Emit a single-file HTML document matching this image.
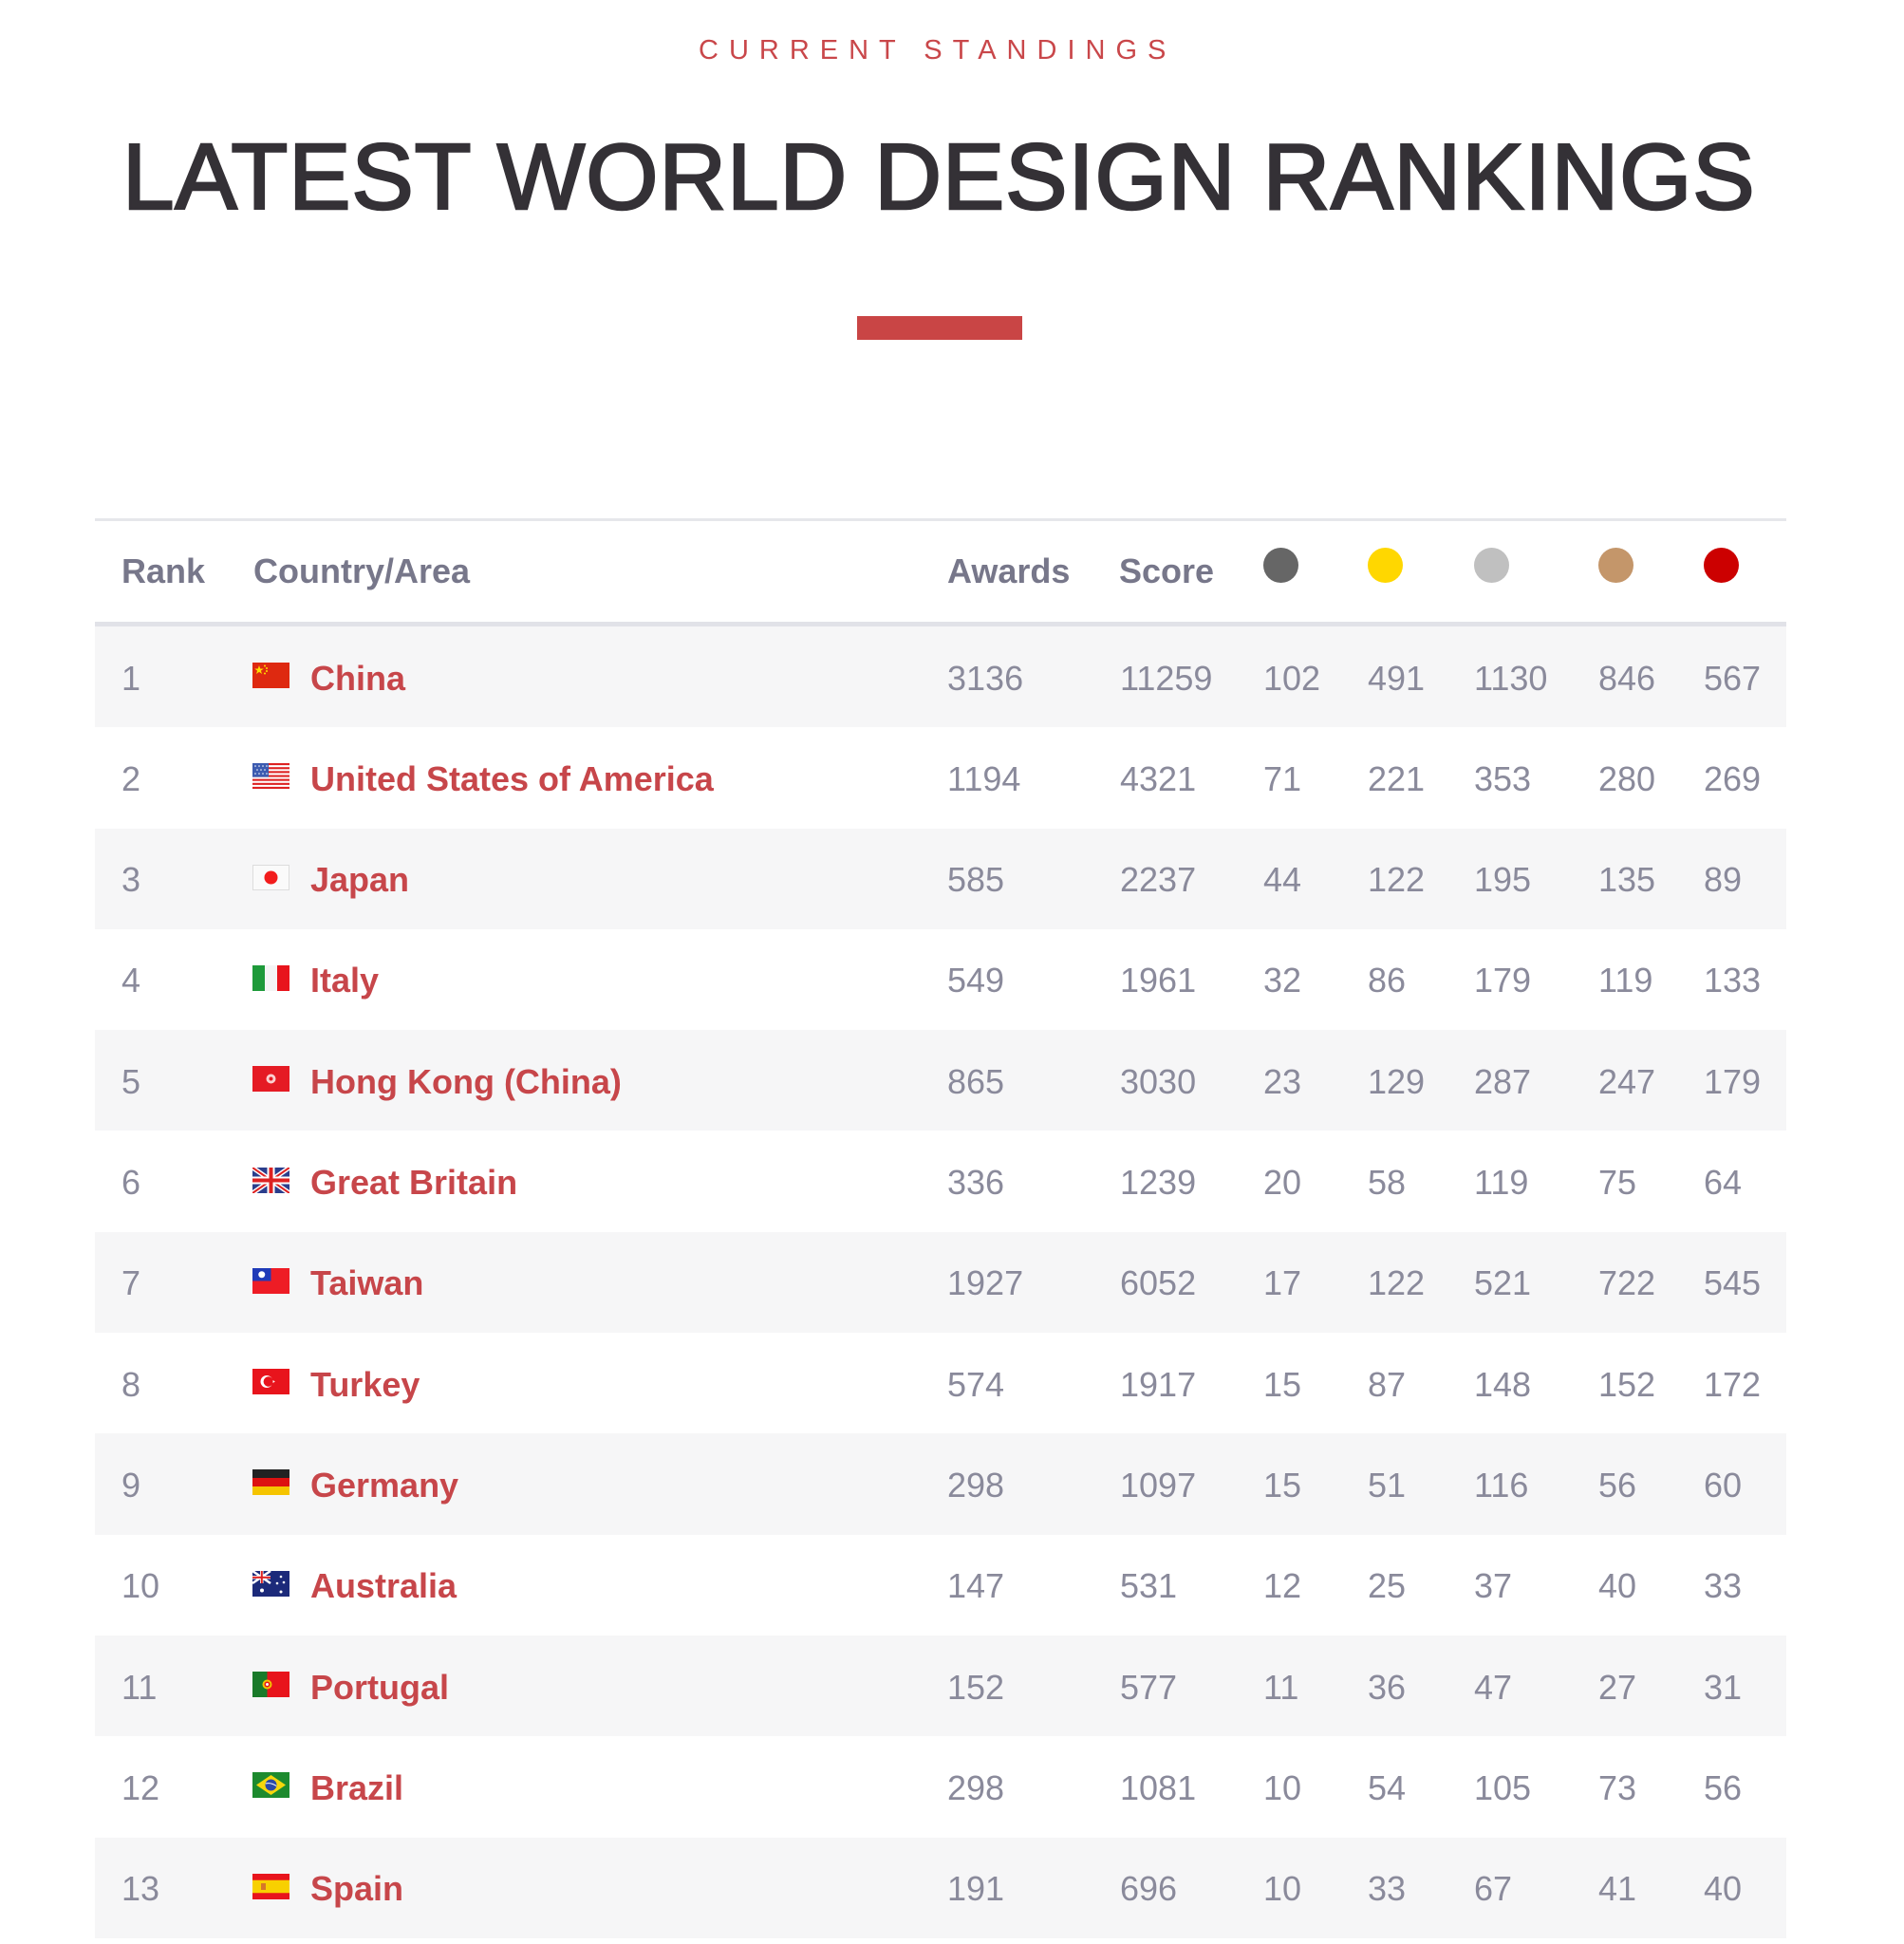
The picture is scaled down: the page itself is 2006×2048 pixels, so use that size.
<!DOCTYPE html>
<html>
<head>
<meta charset="utf-8">
<style>
html,body{margin:0;padding:0;background:#fff;}
body{width:2006px;height:2048px;position:relative;overflow:hidden;font-family:"Liberation Sans",Arial,sans-serif;}
.sub{position:absolute;left:736px;top:38.5px;font-size:29px;line-height:29px;letter-spacing:11px;color:#c9474a;white-space:nowrap;}
.title{position:absolute;left:129px;top:136.5px;font-size:98px;line-height:98px;font-weight:400;letter-spacing:0.9px;color:#343136;-webkit-text-stroke:2.5px #343136;white-space:nowrap;}
.bar{position:absolute;left:903px;top:333px;width:174px;height:25px;background:#c94545;}
.line1{position:absolute;left:100px;top:546px;width:1782px;height:3px;background:#e6e7eb;}
.line2{position:absolute;left:100px;top:655px;width:1782px;height:5px;background:#e1e2e8;}
.hd{position:absolute;top:583.5px;font-size:36px;line-height:36px;font-weight:700;color:#77778a;white-space:nowrap;}
.dot{position:absolute;top:577px;width:37px;height:37px;border-radius:50%;}
.row{position:absolute;left:100px;width:1782px;height:106.3px;}
.row.g{background:#f6f6f7;}
.row span{position:absolute;top:36.5px;font-size:36px;line-height:36px;color:#8a8a9b;white-space:nowrap;}
.row span.n{font-weight:700;color:#c7464a;}
.row svg{position:absolute;left:166px;top:38px;width:39px;height:27px;}
.r{left:28px}.nm{left:227px}.aw{left:898px}.sc{left:1080px}
.c1{left:1231px}.c2{left:1341px}.c3{left:1453px}.c4{left:1584px}.c5{left:1695px}
</style>
</head>
<body>
<div class="sub">CURRENT STANDINGS</div>
<div class="title">LATEST WORLD DESIGN RANKINGS</div>
<div class="bar"></div>

<div class="line1"></div>
<div class="hd" style="left:128px">Rank</div>
<div class="hd" style="left:267px">Country/Area</div>
<div class="hd" style="left:998px">Awards</div>
<div class="hd" style="left:1179px">Score</div>
<div class="dot" style="left:1331px;background:#666666"></div>
<div class="dot" style="left:1441px;background:#ffd700"></div>
<div class="dot" style="left:1553px;background:#c0c0c0"></div>
<div class="dot" style="left:1684px;background:#c4966a"></div>
<div class="dot" style="left:1795px;background:#cc0000"></div>
<div class="line2"></div>

<!-- 1 China -->
<div class="row g" style="top:660px">
<span class="r">1</span>
<svg viewBox="0 0 39 27"><rect width="39" height="27" fill="#de2910"/><polygon points="7,3 8.2,6.5 11.8,6.5 8.9,8.6 10,12 7,9.9 4,12 5.1,8.6 2.2,6.5 5.8,6.5" fill="#ffde00"/><circle cx="13" cy="3.5" r="1" fill="#ffde00"/><circle cx="15" cy="6" r="1" fill="#ffde00"/><circle cx="15" cy="9" r="1" fill="#ffde00"/><circle cx="13" cy="11.5" r="1" fill="#ffde00"/></svg>
<span class="n nm">China</span>
<span class="aw">3136</span><span class="sc">11259</span><span class="c1">102</span><span class="c2">491</span><span class="c3">1130</span><span class="c4">846</span><span class="c5">567</span>
</div>

<!-- 2 USA -->
<div class="row" style="top:766.3px">
<span class="r">2</span>
<svg viewBox="0 0 39 27"><rect width="39" height="27" fill="#fff"/><g fill="#d22"><rect y="0" width="39" height="2.1"/><rect y="4.2" width="39" height="2.1"/><rect y="8.3" width="39" height="2.1"/><rect y="12.5" width="39" height="2.1"/><rect y="16.6" width="39" height="2.1"/><rect y="20.8" width="39" height="2.1"/><rect y="24.9" width="39" height="2.1"/></g><rect width="17" height="14.6" fill="#3c5bb0"/><g fill="#fff"><circle cx="3" cy="3" r="0.8"/><circle cx="7" cy="3" r="0.8"/><circle cx="11" cy="3" r="0.8"/><circle cx="15" cy="3" r="0.8"/><circle cx="5" cy="7" r="0.8"/><circle cx="9" cy="7" r="0.8"/><circle cx="13" cy="7" r="0.8"/><circle cx="3" cy="11" r="0.8"/><circle cx="7" cy="11" r="0.8"/><circle cx="11" cy="11" r="0.8"/><circle cx="15" cy="11" r="0.8"/></g></svg>
<span class="n nm">United States of America</span>
<span class="aw">1194</span><span class="sc">4321</span><span class="c1">71</span><span class="c2">221</span><span class="c3">353</span><span class="c4">280</span><span class="c5">269</span>
</div>

<!-- 3 Japan -->
<div class="row g" style="top:872.6px">
<span class="r">3</span>
<svg viewBox="0 0 39 27"><rect x="0.5" y="0.5" width="38" height="26" fill="#fafafa" stroke="#ddd"/><circle cx="19.5" cy="13.5" r="7" fill="#f21c1c"/></svg>
<span class="n nm">Japan</span>
<span class="aw">585</span><span class="sc">2237</span><span class="c1">44</span><span class="c2">122</span><span class="c3">195</span><span class="c4">135</span><span class="c5">89</span>
</div>

<!-- 4 Italy -->
<div class="row" style="top:978.9px">
<span class="r">4</span>
<svg viewBox="0 0 39 27"><rect width="13" height="27" fill="#1e9a3a"/><rect x="13" width="13" height="27" fill="#f4f4f4"/><rect x="26" width="13" height="27" fill="#e8141c"/></svg>
<span class="n nm">Italy</span>
<span class="aw">549</span><span class="sc">1961</span><span class="c1">32</span><span class="c2">86</span><span class="c3">179</span><span class="c4">119</span><span class="c5">133</span>
</div>

<!-- 5 Hong Kong -->
<div class="row g" style="top:1085.2px">
<span class="r">5</span>
<svg viewBox="0 0 39 27"><rect width="39" height="27" fill="#e51b24"/><circle cx="19.5" cy="13.5" r="5" fill="#fbd0d0"/><circle cx="19.5" cy="13.5" r="2" fill="#e51b24"/></svg>
<span class="n nm">Hong Kong (China)</span>
<span class="aw">865</span><span class="sc">3030</span><span class="c1">23</span><span class="c2">129</span><span class="c3">287</span><span class="c4">247</span><span class="c5">179</span>
</div>

<!-- 6 Great Britain -->
<div class="row" style="top:1191.5px">
<span class="r">6</span>
<svg viewBox="0 0 39 27"><rect width="39" height="27" fill="#2b3e8c"/><path d="M0,0 L39,27 M39,0 L0,27" stroke="#fff" stroke-width="5"/><path d="M0,0 L39,27 M39,0 L0,27" stroke="#d22" stroke-width="2"/><rect x="15.5" width="8" height="27" fill="#fff"/><rect y="9.5" width="39" height="8" fill="#fff"/><rect x="17.5" width="4" height="27" fill="#d22"/><rect y="11.5" width="39" height="4" fill="#d22"/></svg>
<span class="n nm">Great Britain</span>
<span class="aw">336</span><span class="sc">1239</span><span class="c1">20</span><span class="c2">58</span><span class="c3">119</span><span class="c4">75</span><span class="c5">64</span>
</div>

<!-- 7 Taiwan -->
<div class="row g" style="top:1297.8px">
<span class="r">7</span>
<svg viewBox="0 0 39 27"><rect width="39" height="27" fill="#ee1c25"/><rect width="19.5" height="13.5" fill="#1f3ab8"/><circle cx="9.75" cy="6.75" r="3.5" fill="#fff"/></svg>
<span class="n nm">Taiwan</span>
<span class="aw">1927</span><span class="sc">6052</span><span class="c1">17</span><span class="c2">122</span><span class="c3">521</span><span class="c4">722</span><span class="c5">545</span>
</div>

<!-- 8 Turkey -->
<div class="row" style="top:1404.1px">
<span class="r">8</span>
<svg viewBox="0 0 39 27"><rect width="39" height="27" fill="#e8141c"/><circle cx="15" cy="13.5" r="6.5" fill="#fff"/><circle cx="16.8" cy="13.5" r="5.2" fill="#e8141c"/><polygon points="24,13.5 21,12.3 22.5,15.3 22.5,11.7 21,14.7" fill="#fff"/></svg>
<span class="n nm">Turkey</span>
<span class="aw">574</span><span class="sc">1917</span><span class="c1">15</span><span class="c2">87</span><span class="c3">148</span><span class="c4">152</span><span class="c5">172</span>
</div>

<!-- 9 Germany -->
<div class="row g" style="top:1510.4px">
<span class="r">9</span>
<svg viewBox="0 0 39 27"><rect width="39" height="9" fill="#222"/><rect y="9" width="39" height="9" fill="#dd1111"/><rect y="18" width="39" height="9" fill="#f5c400"/></svg>
<span class="n nm">Germany</span>
<span class="aw">298</span><span class="sc">1097</span><span class="c1">15</span><span class="c2">51</span><span class="c3">116</span><span class="c4">56</span><span class="c5">60</span>
</div>

<!-- 10 Australia -->
<div class="row" style="top:1616.7px">
<span class="r">10</span>
<svg viewBox="0 0 39 27"><rect width="39" height="27" fill="#1c2a7a"/><path d="M0,0 L19,13 M19,0 L0,13" stroke="#fff" stroke-width="2.5"/><rect x="8" width="3.5" height="13" fill="#fff"/><rect y="5" width="19" height="3.5" fill="#fff"/><rect x="8.8" width="2" height="13" fill="#d22"/><rect y="5.8" width="19" height="2" fill="#d22"/><g fill="#fff"><circle cx="10" cy="20.5" r="2"/><circle cx="30" cy="6" r="1.3"/><circle cx="26" cy="13" r="1.3"/><circle cx="33" cy="12" r="1.3"/><circle cx="30" cy="22" r="1.5"/></g></svg>
<span class="n nm">Australia</span>
<span class="aw">147</span><span class="sc">531</span><span class="c1">12</span><span class="c2">25</span><span class="c3">37</span><span class="c4">40</span><span class="c5">33</span>
</div>

<!-- 11 Portugal -->
<div class="row g" style="top:1723px">
<span class="r">11</span>
<svg viewBox="0 0 39 27"><rect width="39" height="27" fill="#e8141c"/><rect width="15.5" height="27" fill="#1a7a2a"/><circle cx="15.5" cy="13.5" r="5" fill="#f2c200"/><circle cx="15.5" cy="13.5" r="3" fill="#e8141c"/><circle cx="15.5" cy="13.5" r="1.5" fill="#fff"/></svg>
<span class="n nm">Portugal</span>
<span class="aw">152</span><span class="sc">577</span><span class="c1">11</span><span class="c2">36</span><span class="c3">47</span><span class="c4">27</span><span class="c5">31</span>
</div>

<!-- 12 Brazil -->
<div class="row" style="top:1829.3px">
<span class="r">12</span>
<svg viewBox="0 0 39 27"><rect width="39" height="27" fill="#1d8a2e"/><polygon points="19.5,3 35,13.5 19.5,24 4,13.5" fill="#f6d70c"/><circle cx="19.5" cy="13.5" r="6" fill="#2a4aa8"/><path d="M13.8,12 Q19.5,10.5 25.2,14.5" stroke="#fff" stroke-width="1" fill="none"/></svg>
<span class="n nm">Brazil</span>
<span class="aw">298</span><span class="sc">1081</span><span class="c1">10</span><span class="c2">54</span><span class="c3">105</span><span class="c4">73</span><span class="c5">56</span>
</div>

<!-- 13 Spain -->
<div class="row g" style="top:1935.6px">
<span class="r">13</span>
<svg viewBox="0 0 39 27"><rect width="39" height="27" fill="#e8141c"/><rect y="6.75" width="39" height="13.5" fill="#f8d000"/><rect x="9" y="10" width="5" height="7" fill="#c8503a" opacity="0.7"/></svg>
<span class="n nm">Spain</span>
<span class="aw">191</span><span class="sc">696</span><span class="c1">10</span><span class="c2">33</span><span class="c3">67</span><span class="c4">41</span><span class="c5">40</span>
</div>

</body>
</html>
